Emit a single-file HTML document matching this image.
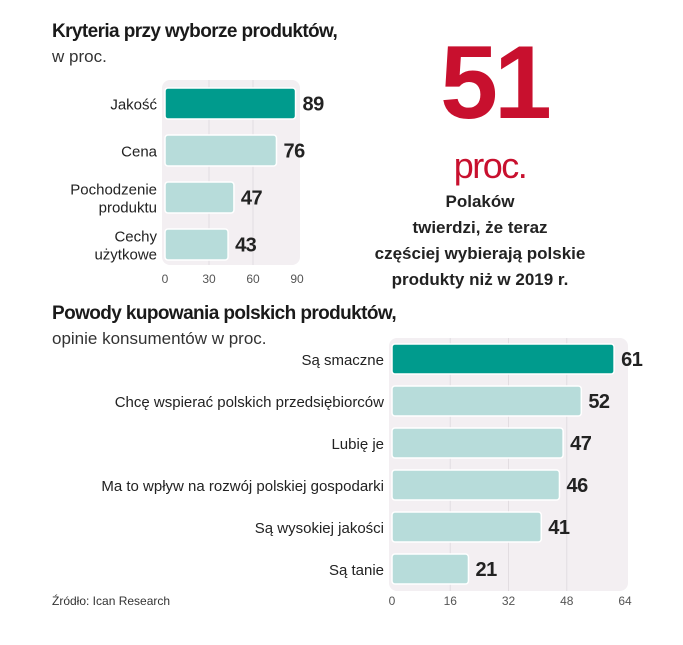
<!DOCTYPE html>
<html><head><meta charset="utf-8"><style>
body{margin:0;background:#fff;font-family:"Liberation Sans",sans-serif;}
svg text{font-family:"Liberation Sans",sans-serif;}
</style></head><body>
<svg width="683" height="640" viewBox="0 0 683 640" xmlns="http://www.w3.org/2000/svg">
<text x="52" y="37" font-size="19" font-weight="bold" fill="#1a1a1a" letter-spacing="-0.6">Kryteria przy wyborze produktów,</text>
<text x="52" y="62" font-size="17" fill="#333">w proc.</text>
<text x="494" y="118" font-size="104" font-weight="bold" fill="#c8102e" text-anchor="middle" letter-spacing="-4">51</text>
<text x="490" y="178" font-size="36" fill="#c8102e" text-anchor="middle" letter-spacing="-1.5">proc.</text>
<g font-size="17" font-weight="bold" fill="#222" text-anchor="middle">
<text x="480" y="207">Polaków</text>
<text x="480" y="233">twierdzi, że teraz</text>
<text x="480" y="259">częściej wybierają polskie</text>
<text x="480" y="285">produkty niż w 2019 r.</text>
</g>
<g id="top"></g>
<text x="52" y="319" font-size="19" font-weight="bold" fill="#1a1a1a" letter-spacing="-0.6">Powody kupowania polskich produktów,</text>
<text x="52" y="344" font-size="17" fill="#333">opinie konsumentów w proc.</text>
<g id="bottom"></g>
<text x="52" y="605" font-size="12" fill="#333">Źródło: Ican Research</text>
</svg>
<script>
const topCats=[["Jakość"],["Cena"],["Pochodzenie","produktu"],["Cechy","użytkowe"]];
const topVals=[89,76,47,43];
const topTicks=[0,30,60,90];
const botCats=["Są smaczne","Chcę wspierać polskich przedsiębiorców","Lubię je","Ma to wpływ na rozwój polskiej gospodarki","Są wysokiej jakości","Są tanie"];
const botVals=[61,52,47,46,41,21];
const botTicks=[0,16,32,48,64];
const NS="http://www.w3.org/2000/svg";
function mk(p,t,a){const e=document.createElementNS(NS,t);for(const k in a)e.setAttribute(k,a[k]);p.appendChild(e);return e;}
function chart(g,cats,vals,ticks,o){
  const x=v=>o.x0+(v-ticks[0])/(ticks[ticks.length-1]-ticks[0])*(o.x1-o.x0);
  const bg=mk(g,"rect",{x:o.x0-3,y:o.y0,width:o.x1-o.x0+6,height:o.y1-o.y0,rx:8,fill:"#f3eff2"});
  
  
  ticks.forEach(t=>{
    if(t!==ticks[0]&&t!==ticks[ticks.length-1]){const l=mk(g,"line",{x1:x(t),x2:x(t),y1:o.y0,y2:o.y1,stroke:"#e2dde1","stroke-width":1});
    
    }
    const tt=mk(g,"text",{x:x(t),y:o.ty,"font-size":12,fill:"#555","text-anchor":"middle"});tt.textContent=t;
    
    
  });
  vals.forEach((v,i)=>{
    const y=o.by+i*o.pitch;
    const r=mk(g,"rect",{x:x(0),y:y,width:x(v)-x(0),height:o.bh,rx:3,fill:i===0?"#009b8d":"#b7dcda",stroke:"#fff","stroke-width":1.5});
    
    
    const vt=mk(g,"text",{x:x(v)+7,y:y+o.bh/2+7,"font-size":20,"font-weight":"bold",fill:"#222","letter-spacing":"-0.5"});vt.textContent=v;
    
    
    const c=Array.isArray(cats[i])?cats[i]:[cats[i]];
    c.forEach((s,j)=>{
      const lt=mk(g,"text",{x:x(0)-8,y:y+o.bh/2+6+(j-(c.length-1)/2)*18,"font-size":15,fill:"#222","text-anchor":"end"});lt.textContent=s;
      
      
    });
  });
}
chart(document.getElementById("top"),topCats,topVals,topTicks,{x0:165,x1:297,y0:80,y1:265,ty:283,by:88,pitch:47,bh:31});
chart(document.getElementById("bottom"),botCats,botVals,botTicks,{x0:392,x1:625,y0:338,y1:591,ty:605,by:344,pitch:42,bh:30});
</script>
</body></html>
